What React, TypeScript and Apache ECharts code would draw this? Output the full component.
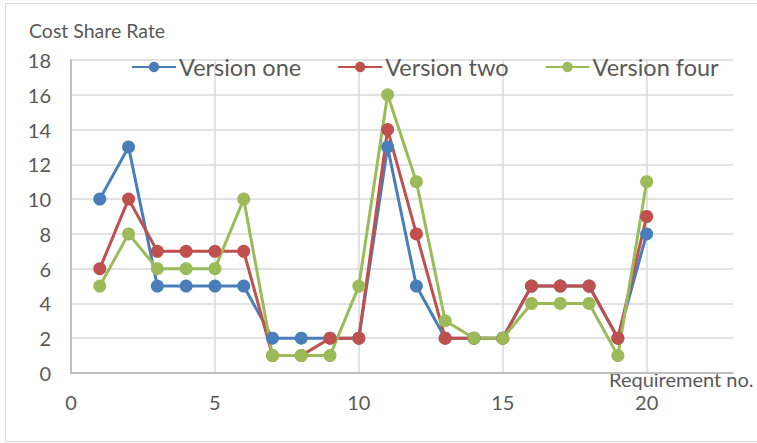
import React, { useEffect, useRef } from "react";
import * as echarts from "echarts";

const requirementNos = [1, 2, 3, 4, 5, 6, 7, 8, 9, 10, 11, 12, 13, 14, 15, 16, 17, 18, 19, 20];
const versionOne = [10, 13, 5, 5, 5, 5, 2, 2, 2, 2, 13, 5, 2, 2, 2, 5, 5, 5, 2, 8];
const versionTwo = [6, 10, 7, 7, 7, 7, 1, 1, 2, 2, 14, 8, 2, 2, 2, 5, 5, 5, 2, 9];
const versionFour = [5, 8, 6, 6, 6, 10, 1, 1, 1, 5, 16, 11, 3, 2, 2, 4, 4, 4, 1, 11];
const seriesNames = ["Version one", "Version two", "Version four"];
const seriesColors = ["#4A7EBB", "#C0504D", "#9BBB59"];

const FONT = "Lato, 'Open Sans', sans-serif";

export default function App() {
  const ref = useRef<HTMLDivElement>(null);
  useEffect(() => {
    if (!ref.current) return;
    const chart = echarts.init(ref.current, undefined, { renderer: "svg" });
    const all = [versionOne, versionTwo, versionFour];
    chart.setOption({
      animation: false,
      textStyle: { fontFamily: FONT },
      grid: { left: 71, top: 60, right: 24, bottom: 70, containLabel: false },
      legend: {
        left: 131,
        top: 55,
        padding: 0,
        itemWidth: 44,
        itemHeight: 13,
        itemGap: 36,
        textStyle: { fontSize: 23.5, color: "#595959", fontFamily: FONT, padding: [0, 0, 0, -2] },
        data: seriesNames,
      },
      graphic: [
        {
          type: "rect",
          silent: true,
          shape: { x: 5.5, y: 3.5, width: 760, height: 438 },
          style: { fill: "none", stroke: "#d9d9d9", lineWidth: 1 },
        },
        {
          type: "text",
          left: 29,
          top: 20,
          style: { text: "Cost Share Rate", fontSize: 19.5, fill: "#595959", fontFamily: FONT },
        },
        {
          type: "text",
          left: 609,
          top: 369,
          style: { text: "Requirement no.", fontSize: 20, fill: "#595959", fontFamily: FONT },
        },
      ],
      xAxis: {
        type: "value",
        min: 0,
        max: 23,
        interval: 5,
        axisLine: { show: true, lineStyle: { color: "#bfbfbf", width: 2 } },
        axisTick: { show: false },
        axisLabel: {
          showMaxLabel: false,
          fontSize: 20,
          color: "#595959",
          margin: 19,
          fontFamily: FONT,
        },
        splitLine: {
          show: true,
          lineStyle: {
            color: ["#d9d9d9", "#d9d9d9", "#d9d9d9", "#d9d9d9", "#d9d9d9", "rgba(0,0,0,0)"],
            width: 1.5,
          },
        },
      },
      yAxis: {
        type: "value",
        min: 0,
        max: 18,
        interval: 2,
        axisLine: { show: true, lineStyle: { color: "#bfbfbf", width: 2 } },
        axisTick: { show: false },
        axisLabel: { fontSize: 20, color: "#595959", margin: 20, fontFamily: FONT },
        splitLine: { show: true, lineStyle: { color: "#d9d9d9", width: 1.5 } },
      },
      series: all.map((vals, i) => ({
        name: seriesNames[i],
        type: "line",
        data: requirementNos.map((x, j) => [x, vals[j]]),
        symbol: "circle",
        symbolSize: 13,
        color: seriesColors[i],
        lineStyle: { width: 3, color: seriesColors[i] },
        itemStyle: { color: seriesColors[i] },
      })),
    });
    return () => chart.dispose();
  }, []);
  return <div ref={ref} style={{ width: 757, height: 443, position: "absolute", left: 0, top: 0 }} />;
}
